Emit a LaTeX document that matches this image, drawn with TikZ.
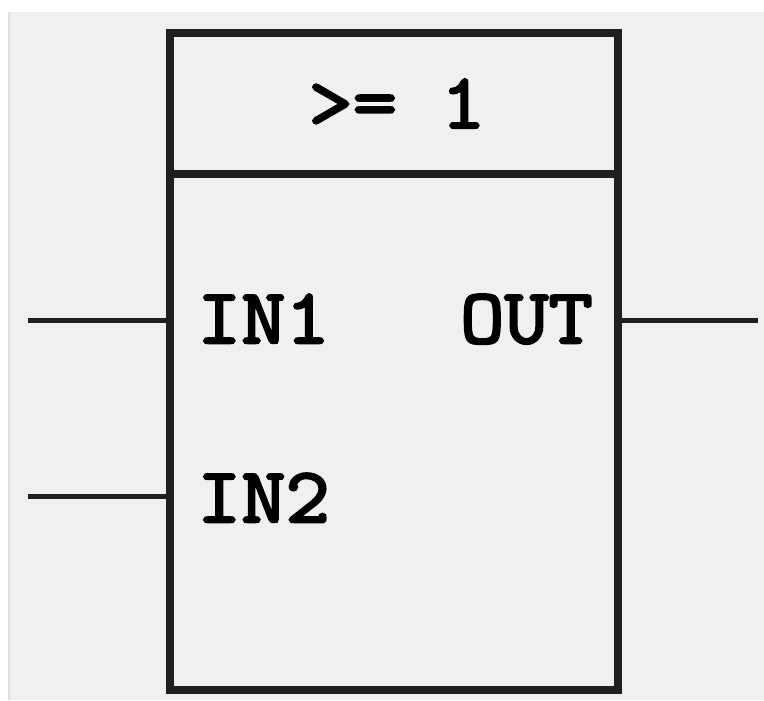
\documentclass[tikz,border=0pt]{standalone}
\usepackage{fontspec}
\setmonofont{Latin Modern Mono}[AutoFakeBold=3.2, FakeStretch=1.1]
\usetikzlibrary{positioning, calc}

\begin{document}
\begin{tikzpicture}[
    x=1pt, y=-1pt,
    every node/.style={align=center},
    blockbox/.style={draw=black!88, line width=8pt, inner sep=0pt, minimum width=448pt},
    pinlabel/.style={inner sep=0pt, font=\fontsize{78}{90}\selectfont\ttfamily\bfseries},
    pinline/.style={draw=black!88, line width=5pt}
]

% 背景
\fill[white] (0,0) rectangle (764,700);
\fill[black!6] (8,12) rectangle (764,700);
\draw[black!12, line width=1.5pt] (8.75,12) -- (8.75,700);

% 功能块
\node[blockbox, minimum height=141pt] (title) at (394,103.5) {};
\node[blockbox, minimum height=516pt] (body) at (394,432) {};
\node[pinlabel] (func) at ([xshift=3pt]title.center) {>= 1};

% 引脚名称
\node[pinlabel, anchor=base west] (in1) at (197,343) {IN1};
\node[pinlabel, anchor=base west] (in2) at (197,522) {IN2};
\node[pinlabel, anchor=base east] (out) at (593,343) {OUT};

% 连线
\coordinate (a1) at (28,320);
\coordinate (a2) at (28,496);
\coordinate (q) at (758,320);
\draw[pinline] (a1) -- (a1 -| body.west);
\draw[pinline] (a2) -- (a2 -| body.west);
\draw[pinline] (q -| body.east) -- (q);

\end{tikzpicture}
\end{document}
